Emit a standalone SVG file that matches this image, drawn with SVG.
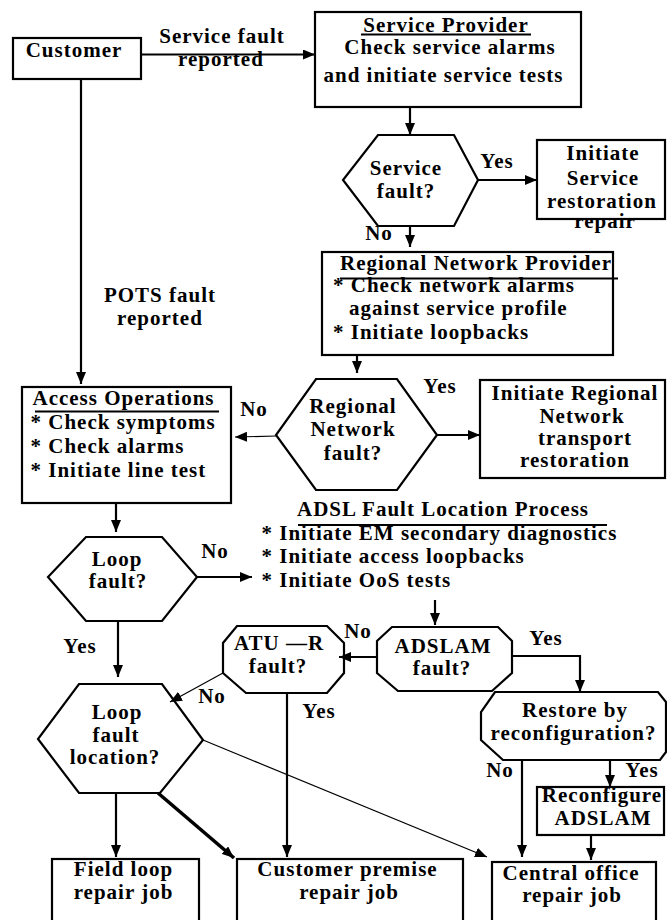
<svg xmlns="http://www.w3.org/2000/svg" width="667" height="920" viewBox="0 0 667 920">
<style>
.t{font-family:"Liberation Serif","Times New Roman",serif;font-weight:bold;font-size:21px;letter-spacing:1px;fill:#000}
.m{text-anchor:middle}
.s{fill:#fff;stroke:#000;stroke-width:2.2}
.c{fill:none;stroke:#000;stroke-width:2.2}
.thin{fill:none;stroke:#000;stroke-width:1.2}
.thick{fill:none;stroke:#000;stroke-width:3.6}
.u{stroke:#000;stroke-width:2}
</style>
<defs>
<marker id="ah" viewBox="0 0 12 10" refX="12" refY="5" markerWidth="12" markerHeight="10" markerUnits="userSpaceOnUse" orient="auto"><path d="M0,0 L12,5 L0,10 z" fill="#000"/></marker>
</defs>
<rect width="667" height="920" fill="#fff"/>

<g id="customer">
<rect class="s" x="13" y="38" width="128" height="41"/>
<text class="t m" x="74" y="57">Customer</text>
</g>

<g id="service-provider">
<rect class="s" x="315" y="12" width="266" height="95"/>
<text class="t m" x="446" y="32">Service Provider</text>
<line class="u" x1="361" y1="34.5" x2="531" y2="34.5"/>
<text class="t m" x="450" y="53.5">Check service alarms</text>
<text class="t m" x="443.5" y="81.5">and initiate service tests</text>
</g>

<g id="service-fault">
<polygon class="s" points="378,135 454,135 478,180 454,226 378,226 343,180"/>
<text class="t m" x="406" y="175">Service</text>
<text class="t m" x="406" y="197.5">fault?</text>
</g>

<g id="initiate-service-restoration">
<rect class="s" x="537" y="140" width="128" height="79"/>
<text class="t m" x="603" y="160">Initiate</text>
<text class="t m" x="603" y="184.5">Service</text>
<text class="t m" x="602" y="208">restoration</text>
<text class="t m" x="605" y="228">repair</text>
</g>

<g id="regional-network-provider">
<rect class="s" x="322" y="252" width="291" height="103"/>
<text class="t m" x="476" y="270">Regional Network Provider</text>
<line class="u" x1="340" y1="278.5" x2="618" y2="278.5"/>
<text class="t" x="333" y="291.5">* Check network alarms</text>
<text class="t" x="349" y="315">against service profile</text>
<text class="t" x="333" y="338.5">* Initiate loopbacks</text>
</g>

<g id="access-operations">
<rect class="s" x="22" y="387" width="209" height="116"/>
<text class="t m" x="123.5" y="405">Access Operations</text>
<line class="u" x1="35" y1="411.5" x2="219" y2="411.5"/>
<text class="t" x="30.5" y="428.5">* Check symptoms</text>
<text class="t" x="30.5" y="452.5">* Check alarms</text>
<text class="t" x="30.5" y="476.5">* Initiate line test</text>
</g>

<g id="regional-network-fault">
<polygon class="s" points="316,379 397,379 437,435 397,490 316,490 276,435"/>
<text class="t m" x="353" y="412.5">Regional</text>
<text class="t m" x="353" y="436">Network</text>
<text class="t m" x="353" y="459.5">fault?</text>
</g>

<g id="initiate-regional-network">
<rect class="s" x="480" y="380" width="185" height="98"/>
<text class="t m" x="575" y="400">Initiate Regional</text>
<text class="t m" x="582" y="423.3">Network</text>
<text class="t m" x="585" y="445">transport</text>
<text class="t m" x="575" y="467.3">restoration</text>
</g>

<g id="adsl-fault-location">
<text class="t m" x="443" y="516">ADSL Fault Location Process</text>
<line class="u" x1="298" y1="525" x2="607" y2="525"/>
<text class="t" x="261.5" y="540">* Initiate EM secondary diagnostics</text>
<text class="t" x="261.5" y="563.3">* Initiate access loopbacks</text>
<text class="t" x="261.5" y="586.7">* Initiate OoS tests</text>
</g>

<g id="loop-fault">
<polygon class="s" points="86,537 162,537 197,577 162,621 86,621 48,577"/>
<text class="t m" x="117" y="566">Loop</text>
<text class="t m" x="118" y="588.3">fault?</text>
</g>

<g id="atu-r-fault">
<polygon class="s" points="237,626 327,626 344,643 344,673 327,693 246,693 223,673 223,643"/>
<text class="t m" x="279" y="650">ATU —R</text>
<text class="t m" x="278" y="673.3">fault?</text>
</g>

<g id="adslam-fault">
<polygon class="s" points="392,627 498,627 512,641 512,673 492,691 398,691 377,673 377,641"/>
<text class="t m" x="443" y="653.3">ADSLAM</text>
<text class="t m" x="442" y="675">fault?</text>
</g>

<g id="restore-by-reconfiguration">
<polygon class="s" points="495,692 658,692 666,702 666,752 660,760 503,760 481,740 481,712"/>
<text class="t m" x="575" y="716.7">Restore by</text>
<text class="t m" x="573.5" y="740">reconfiguration?</text>
</g>

<g id="loop-fault-location">
<polygon class="s" points="79,684 162,684 203,740 160,793 79,793 38,739"/>
<text class="t m" x="117" y="719">Loop</text>
<text class="t m" x="116" y="742">fault</text>
<text class="t m" x="115" y="764">location?</text>
</g>

<g id="reconfigure-adslam">
<rect class="s" x="537" y="787" width="127" height="48"/>
<text class="t m" x="602" y="802.3">Reconfigure</text>
<text class="t m" x="603" y="825">ADSLAM</text>
</g>

<g id="field-loop-repair">
<rect class="s" x="52" y="859" width="147" height="70"/>
<text class="t m" x="123.5" y="876">Field loop</text>
<text class="t m" x="123.5" y="899.3">repair job</text>
</g>

<g id="customer-premise-repair">
<rect class="s" x="237" y="859" width="226" height="70"/>
<text class="t m" x="347.5" y="876">Customer premise</text>
<text class="t m" x="349" y="899.3">repair job</text>
</g>

<g id="central-office-repair">
<rect class="s" x="492" y="862" width="164" height="70"/>
<text class="t m" x="571" y="880">Central office</text>
<text class="t m" x="572" y="901.7">repair job</text>
</g>

<g id="connectors">
<line class="c" x1="141" y1="54.5" x2="315" y2="54.5" marker-end="url(#ah)"/>
<line class="c" x1="81" y1="79" x2="81" y2="384" marker-end="url(#ah)"/>
<line class="c" x1="410" y1="107" x2="410" y2="135" marker-end="url(#ah)"/>
<line class="c" x1="478" y1="180" x2="537" y2="180" marker-end="url(#ah)"/>
<line class="c" x1="410" y1="226" x2="410" y2="247" marker-end="url(#ah)"/>
<line class="c" x1="357" y1="355" x2="357" y2="373" marker-end="url(#ah)"/>
<line class="thin" x1="276" y1="436" x2="235" y2="437" marker-end="url(#ah)"/>
<line class="c" x1="437" y1="435" x2="480" y2="435" marker-end="url(#ah)"/>
<line class="c" x1="116" y1="503" x2="116" y2="532" marker-end="url(#ah)"/>
<line class="c" x1="197" y1="577" x2="252" y2="577" marker-end="url(#ah)"/>
<line class="c" x1="118" y1="621" x2="118" y2="677" marker-end="url(#ah)"/>
<line class="c" x1="435" y1="600" x2="435" y2="625" marker-end="url(#ah)"/>
<line class="c" x1="377" y1="657" x2="339" y2="657" marker-end="url(#ah)"/>
<polyline class="c" points="511,656 580,656 580,692" marker-end="url(#ah)"/>
<line class="thin" x1="223" y1="673" x2="170" y2="702" marker-end="url(#ah)"/>
<line class="c" x1="287" y1="693" x2="287" y2="857" marker-end="url(#ah)"/>
<line class="c" x1="116" y1="793" x2="116" y2="857" marker-end="url(#ah)"/>
<line class="thick" x1="158" y1="793" x2="234" y2="858" marker-end="url(#ah)"/>
<line class="thin" x1="203" y1="740" x2="487" y2="857" marker-end="url(#ah)"/>
<line class="c" x1="522" y1="760" x2="522" y2="857" marker-end="url(#ah)"/>
<line class="c" x1="610" y1="760" x2="610" y2="787" marker-end="url(#ah)"/>
<line class="c" x1="591" y1="836" x2="591" y2="860" marker-end="url(#ah)"/>
<text class="t m" x="222" y="43">Service fault</text>
<text class="t m" x="221" y="65.5">reported</text>
<text class="t m" x="160" y="301.5">POTS fault</text>
<text class="t m" x="160" y="325">reported</text>
<text class="t m" x="497" y="168">Yes</text>
<text class="t m" x="379" y="240">No</text>
<text class="t m" x="440" y="393">Yes</text>
<text class="t m" x="254" y="416">No</text>
<text class="t m" x="215" y="558.3">No</text>
<text class="t m" x="80" y="653.3">Yes</text>
<text class="t m" x="358" y="638.3">No</text>
<text class="t m" x="546" y="645">Yes</text>
<text class="t m" x="212" y="703.3">No</text>
<text class="t m" x="319" y="718.3">Yes</text>
<text class="t m" x="500" y="777.3">No</text>
<text class="t m" x="642" y="777.3">Yes</text>
</g>
</svg>
